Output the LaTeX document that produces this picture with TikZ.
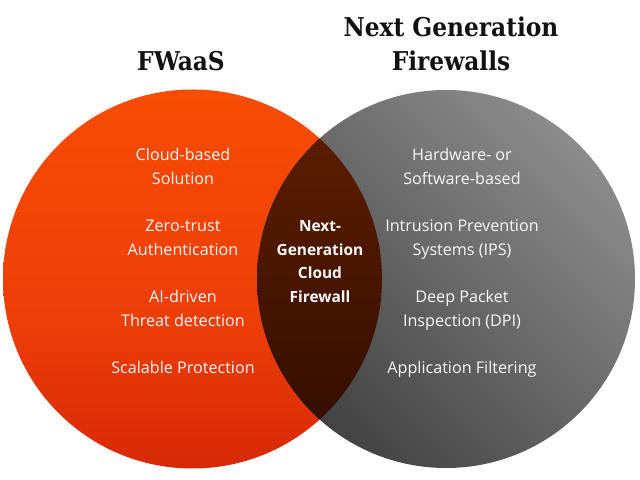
\documentclass[tikz,border=0pt]{standalone}
\usepackage{fontspec}
\setmainfont{Open Sans}
\newfontfamily\titlefont{DejaVu Serif Condensed}[BoldFont={DejaVu Serif Condensed Bold}]
\definecolor{otop}{HTML}{FF5800}
\definecolor{omid}{HTML}{EE3E08}
\definecolor{obot}{HTML}{BC0E05}
\definecolor{gtop}{HTML}{B0B0B0}
\definecolor{gbot}{HTML}{1E1E1E}
\definecolor{itop}{HTML}{7C2800}
\definecolor{ibot}{HTML}{140300}
\pgfdeclareverticalshading{orangesh}{100bp}{color(0bp)=(obot); color(45bp)=(omid); color(100bp)=(otop)}
\pgfdeclareverticalshading{graysh}{100bp}{color(0bp)=(gbot); color(100bp)=(gtop)}
\pgfdeclareverticalshading{intsh}{100bp}{color(0bp)=(ibot); color(100bp)=(itop)}
\tikzset{
  titletext/.style={font=\titlefont\bfseries\fontsize{26}{30}\selectfont, text=black!93, anchor=base, inner sep=0pt},
  bodytext/.style={font=\fontsize{16.2}{19}\selectfont, text=white!94!gray, anchor=base, inner sep=0pt},
  midtext/.style={font=\bfseries\fontsize{15.5}{18}\selectfont, text=white!96!gray, anchor=base, inner sep=0pt}
}
\begin{document}
\begin{tikzpicture}[x=1bp,y=1bp]
\fill[white] (0,0) rectangle (640,480);
\useasboundingbox (0,0) rectangle (640,480);
% circles
\shade[shading=orangesh] (192.5,201) circle (189.5);
\shade[shading=graysh, shading angle=-45] (446,201) circle (189);
\begin{scope}
  \clip (192.5,201) circle (189.5);
  \shade[shading=intsh] (446,201) circle (189);
\end{scope}
% titles
\node[titletext] (t1) at (181,409) {FWaaS};
\node[titletext] (t2) at (451,443) {Next Generation};
\node[titletext] (t3) at (451,409) {Firewalls};
% left texts
\node[bodytext] (l1) at (183,319) {Cloud-based};
\node[bodytext] (l2) at (183,295) {Solution};
\node[bodytext] (l3) at (183,248) {Zero-trust};
\node[bodytext] (l4) at (183,224) {Authentication};
\node[bodytext] (l5) at (183,177) {AI-driven};
\node[bodytext] (l6) at (183,153) {Threat detection};
\node[bodytext] (l7) at (183,106) {Scalable Protection};
% right texts
\node[bodytext] (r1) at (462,319) {Hardware- or};
\node[bodytext] (r2) at (462,295) {Software-based};
\node[bodytext] (r3) at (462,248) {Intrusion Prevention};
\node[bodytext] (r4) at (462,224) {Systems (IPS)};
\node[bodytext] (r5) at (462,177) {Deep Packet};
\node[bodytext] (r6) at (462,153) {Inspection (DPI)};
\node[bodytext] (r7) at (462,106) {Application Filtering};
% middle texts
\node[midtext] (m1) at (320,248) {Next-};
\node[midtext] (m2) at (320,224) {Generation};
\node[midtext] (m3) at (320,201) {Cloud};
\node[midtext] (m4) at (320,177) {Firewall};
\end{tikzpicture}
\end{document}
